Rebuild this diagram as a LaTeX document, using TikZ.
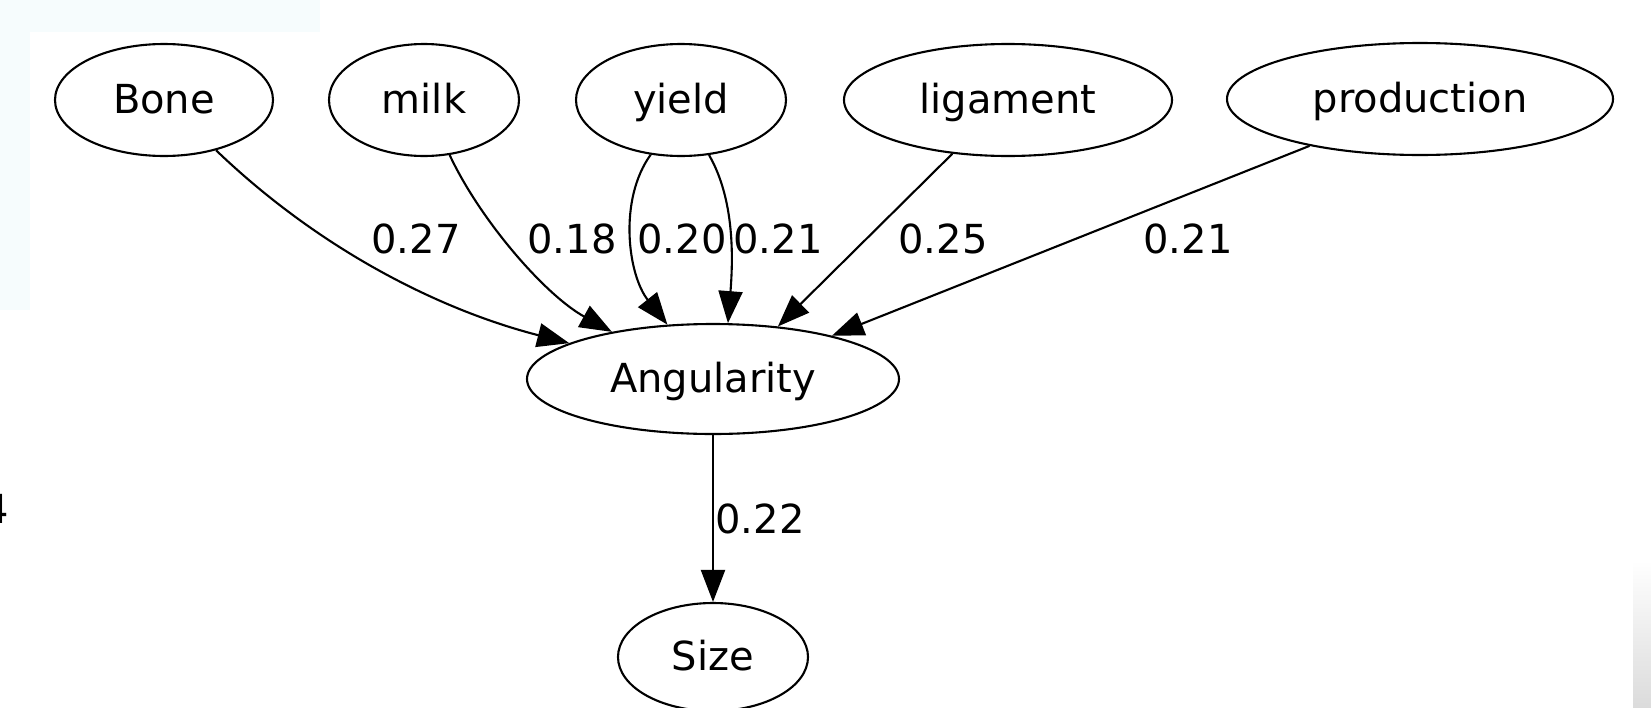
\documentclass[tikz,border=0pt]{standalone}
\usepackage{fontspec}
\setmainfont{DejaVu Sans}
\usetikzlibrary{arrows.meta,shapes.geometric}
\definecolor{tint}{HTML}{F6FCFD}
\begin{document}
\begin{tikzpicture}[x=1pt,y=-1pt,
  nd/.style={draw, line width=2.1pt, ellipse, inner sep=0pt,
    text height=31pt, text depth=4pt, font=\fontsize{40}{48}\selectfont},
  edge/.style={line width=2.1pt, -{Triangle[length=32pt,width=24pt]}},
  lbl/.style={font=\fontsize{40}{48}\selectfont, inner sep=0pt, anchor=base}]
% background
\useasboundingbox (0,0) rectangle (1651,707);
\fill[white] (0,0) rectangle (1651,707);
\fill[tint] (0,0) rectangle (320,32);
\fill[tint] (0,0) rectangle (30,310);
\shade[top color=white, bottom color=black!14] (1633,560) rectangle (1651,707);
% nodes
\node[nd, minimum width=218pt, minimum height=112pt] (bone) at (164,100) {Bone};
\node[nd, minimum width=190pt, minimum height=112pt] (milk) at (424,100) {milk};
\node[nd, minimum width=210pt, minimum height=112pt] (yield) at (681,100) {yield};
\node[nd, minimum width=328pt, minimum height=112pt] (lig) at (1008,100) {ligament};
\node[nd, minimum width=386pt, minimum height=112pt] (prod) at (1420,99) {production};
\node[nd, minimum width=372pt, minimum height=110pt] (ang) at (713,379) {Angularity};
\node[nd, minimum width=190pt, minimum height=108pt] (size) at (713,657) {Size};
% edges
\draw[edge] (bone.-44.4) .. controls (320,250) and (440,310) .. (ang.166.4);
\draw[edge] (milk.-65.6) .. controls (480,220) and (545,295) .. (ang.155.3);
\draw[edge] (yield.-119.4) .. controls (618,200) and (628,275) .. (ang.130.4);
\draw[edge] (yield.-63) .. controls (735,200) and (733,260) .. (ang.75.7);
\draw[edge] (lig.-136) -- (ang.39.6);
\draw[edge] (prod.-157.4) -- (ang.20.6);
\draw[edge] (ang.south) -- (size.north);
% labels
\node[lbl] (l1) at (416,253) {0.27};
\node[lbl] (l2) at (572,253) {0.18};
\node[lbl] (l3) at (682,253) {0.20};
\node[lbl] (l4) at (778,253) {0.21};
\node[lbl] (l5) at (943,253) {0.25};
\node[lbl] (l6) at (1188,253) {0.21};
\node[lbl] (l7) at (760,533) {0.22};
\node[font=\fontsize{40}{48}\selectfont, inner sep=0pt, anchor=base east] (frag) at (9,523) {4};
\end{tikzpicture}
\end{document}
